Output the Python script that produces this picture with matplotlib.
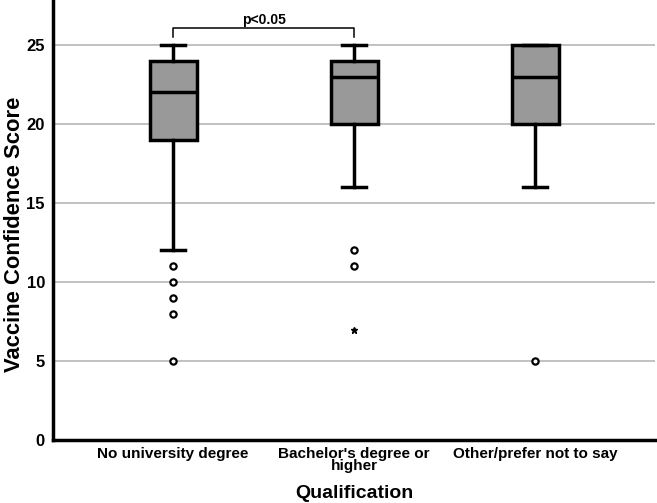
import matplotlib.pyplot as plt

# Qualification groups and box statistics
groups = ["No university degree", "Bachelor's degree or\nhigher", "Other/prefer not to say"]
whisker_low = [12, 16, 16]
q1 = [19, 20, 20]
medians = [22, 23, 23]
q3 = [24, 24, 25]
whisker_high = [25, 25, 25]
outliers = [[11, 10, 9, 8, 5], [12, 11], [5]]
extremes = [[], [7], []]

plt.rcParams['font.family'] = ['Liberation Sans', 'DejaVu Sans']

stats = []
for i in range(len(groups)):
    stats.append({'whislo': whisker_low[i], 'q1': q1[i], 'med': medians[i],
                  'q3': q3[i], 'whishi': whisker_high[i], 'fliers': outliers[i]})

fig, ax = plt.subplots(figsize=(6.57, 5.03), dpi=100)
positions = [1, 2, 3]
ax.bxp(stats, positions=positions, widths=0.26, patch_artist=True, showcaps=True,
       boxprops=dict(facecolor='#999999', edgecolor='black', linewidth=2.5),
       medianprops=dict(color='black', linewidth=2.5),
       whiskerprops=dict(color='black', linewidth=2.5),
       capprops=dict(color='black', linewidth=2.5),
       capwidths=0.13,
       flierprops=dict(marker='o', markersize=4.5, markerfacecolor='white',
                       markeredgecolor='black', markeredgewidth=1.6))

for pos, ext in zip(positions, extremes):
    if ext:
        ax.plot([pos] * len(ext), ext, linestyle='none', marker='*', color='black', markersize=5)

# significance bracket
ax.plot([1, 1, 2, 2], [25.5, 26.1, 26.1, 25.5], color='black', linewidth=1.1)
ax.text(1.5, 26.12, 'p<0.05', ha='center', va='bottom', fontsize=10, fontweight='bold')

ax.set_xlim(0.337, 3.663)
ax.set_ylim(0, 27.85)
ax.set_yticks([0, 5, 10, 15, 20, 25])
ax.set_xticks(positions)
ax.set_xticklabels(groups, fontsize=11, fontweight='bold', linespacing=0.85)
ax.tick_params(axis='y', labelsize=12, length=0, pad=6)
ax.tick_params(axis='x', length=0, pad=5)
for lbl in ax.get_yticklabels():
    lbl.set_fontweight('bold')
for y in [5, 10, 15, 20, 25]:
    ax.axhline(y, color='#b0b0b0', linewidth=1.1, zorder=0)

ax.spines['top'].set_visible(False)
ax.spines['right'].set_visible(False)
ax.spines['left'].set_linewidth(2.5)
ax.spines['bottom'].set_linewidth(2.5)

ax.set_ylabel('Vaccine Confidence Score', fontsize=15.8, fontweight='bold')
ax.yaxis.set_label_coords(-0.047, 0.468)
ax.set_xlabel('Qualification', fontsize=14, fontweight='bold', labelpad=8)

fig.subplots_adjust(left=0.081, right=0.997, top=1.0, bottom=0.125)
fig.savefig('out.png', dpi=100)
